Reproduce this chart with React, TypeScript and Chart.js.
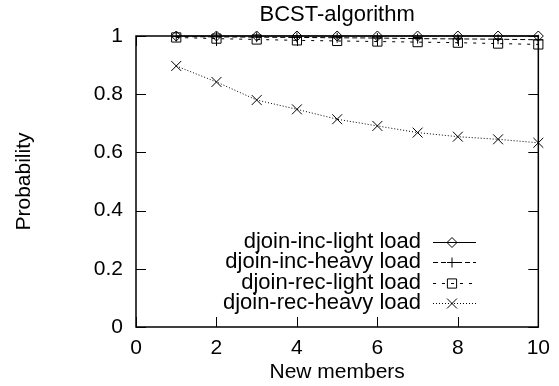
import React, { useEffect, useRef } from "react";
import { Chart, registerables } from "chart.js";
import { drawPoint } from "chart.js/helpers";

Chart.register(...registerables);

const newMembers = [1, 2, 3, 4, 5, 6, 7, 8, 9, 10];
const incLight = [1, 1, 1, 1, 1, 1, 1, 1, 1, 1];
const incHeavy = [0.998, 0.997, 0.996, 0.995, 0.994, 0.993, 0.991, 0.99, 0.989, 0.987];
const recLight = [0.995, 0.991, 0.988, 0.985, 0.983, 0.981, 0.979, 0.977, 0.974, 0.971];
const recHeavy = [0.897, 0.842, 0.78, 0.748, 0.714, 0.691, 0.668, 0.654, 0.645, 0.633];
const seriesLabels = [
  "djoin-inc-light load",
  "djoin-inc-heavy load",
  "djoin-rec-light load",
  "djoin-rec-heavy load",
];
const chartTitle = "BCST-algorithm";
const xTitle = "New members";
const yTitle = "Probability";

const FONT = "'Liberation Sans', Arial, Helvetica, sans-serif";

const toPts = (vals: number[]) => vals.map((v, i) => ({ x: newMembers[i], y: v }));
const fmt = (v: any) => String(Number(Number(v).toFixed(3)));

const framePlugin = {
  id: "gnuFrame",
  beforeDatasetsDraw(chart: any) {
    const { ctx, chartArea: a, scales } = chart;
    const x = scales.x;
    const y = scales.y;
    ctx.save();
    ctx.strokeStyle = "#000";
    ctx.lineWidth = 1;
    const T = 10;
    ctx.beginPath();
    x.ticks.forEach((t: any) => {
      const px = Math.round(x.getPixelForValue(t.value)) + 0.5;
      ctx.moveTo(px, a.bottom);
      ctx.lineTo(px, a.bottom - T);
      ctx.moveTo(px, a.top);
      ctx.lineTo(px, a.top + T);
    });
    y.ticks.forEach((t: any) => {
      const py = Math.round(y.getPixelForValue(t.value)) + 0.5;
      ctx.moveTo(a.left, py);
      ctx.lineTo(a.left + T, py);
      ctx.moveTo(a.right, py);
      ctx.lineTo(a.right - T, py);
    });
    ctx.stroke();
    ctx.lineWidth = 1.5;
    ctx.strokeRect(a.left, a.top, a.right - a.left, a.bottom - a.top);
    ctx.restore();
  },
};

const titlePlugin = {
  id: "gnuTitle",
  afterDraw(chart: any) {
    const { ctx, chartArea: a } = chart;
    ctx.save();
    ctx.fillStyle = "#000";
    ctx.font = `22px ${FONT}`;
    ctx.textAlign = "center";
    ctx.textBaseline = "middle";
    ctx.fillText(chartTitle, (a.left + a.right) / 2, 15);
    ctx.restore();
  },
};

const legendPlugin = {
  id: "gnuLegend",
  afterDraw(chart: any) {
    const { ctx } = chart;
    const textRight = 421;
    const lineStart = 433;
    const lineEnd = 476;
    const mid = 452;
    ctx.save();
    chart.data.datasets.forEach((ds: any, i: number) => {
      const yy = 242 + 20.3 * i;
      ctx.fillStyle = "#000";
      ctx.font = `22px ${FONT}`;
      ctx.textAlign = "right";
      ctx.textBaseline = "middle";
      ctx.fillText(ds.label, textRight, yy);
      ctx.strokeStyle = ds.borderColor;
      ctx.lineWidth = ds.borderWidth;
      ctx.setLineDash(ds.borderDash || []);
      ctx.beginPath();
      ctx.moveTo(lineStart, Math.round(yy) + 0.5);
      ctx.lineTo(lineEnd, Math.round(yy) + 0.5);
      ctx.stroke();
      ctx.setLineDash([]);
      ctx.fillStyle = ds.pointBackgroundColor;
      ctx.strokeStyle = ds.pointBorderColor;
      ctx.lineWidth = ds.pointBorderWidth;
      drawPoint(
        ctx,
        { pointStyle: ds.pointStyle, rotation: 0, radius: ds.pointRadius, borderWidth: ds.pointBorderWidth },
        mid,
        Math.round(yy) + 0.5
      );
    });
    ctx.restore();
  },
};

export default function App() {
  const ref = useRef<HTMLCanvasElement | null>(null);

  useEffect(() => {
    if (!ref.current) return;
    const common = {
      borderColor: "#000",
      borderWidth: 1,
      pointBorderColor: "#000",
      pointBackgroundColor: "rgba(255,255,255,0)",
      pointBorderWidth: 1,
      pointHoverRadius: 0,
      fill: false,
      tension: 0,
      clip: false as any,
    };
    const chart = new Chart(ref.current, {
      type: "line",
      data: {
        datasets: [
          { ...common, label: seriesLabels[0], data: toPts(incLight), pointStyle: "rectRot", pointRadius: 5, borderDash: [] },
          { ...common, label: seriesLabels[1], data: toPts(incHeavy), pointStyle: "cross", pointRadius: 5, borderDash: [5, 3] },
          { ...common, label: seriesLabels[2], data: toPts(recLight), pointStyle: "rect", pointRadius: 6.5, borderDash: [3, 6] },
          { ...common, label: seriesLabels[3], data: toPts(recHeavy), pointStyle: "crossRot", pointRadius: 7, borderDash: [1, 2] },
        ],
      },
      options: {
        animation: false,
        responsive: false,
        events: [],
        layout: { padding: { top: 36, right: 16, bottom: 0, left: 0 } },
        plugins: {
          legend: { display: false },
          title: { display: false },
          tooltip: { enabled: false },
        },
        scales: {
          x: {
            type: "linear",
            min: 0,
            max: 10,
            ticks: { stepSize: 2, color: "#000", padding: 9, maxRotation: 0, font: { family: FONT, size: 21 }, callback: fmt },
            grid: { display: false, drawTicks: false },
            border: { display: false },
            title: { display: true, text: xTitle, color: "#000", font: { family: FONT, size: 21 }, padding: { top: 0, bottom: 1 } },
            afterFit(scale: any) {
              scale.height = 59;
            },
          },
          y: {
            type: "linear",
            min: 0,
            max: 1,
            ticks: { stepSize: 0.2, color: "#000", padding: 13, font: { family: FONT, size: 21 }, callback: fmt },
            grid: { display: false, drawTicks: false },
            border: { display: false },
            title: { display: true, text: yTitle, color: "#000", font: { family: FONT, size: 21 }, padding: { top: 12, bottom: 0 } },
            afterFit(scale: any) {
              scale.width = 136;
            },
          },
        },
      },
      plugins: [framePlugin, titlePlugin, legendPlugin],
    } as any);
    return () => chart.destroy();
  }, []);

  return (
    <div style={{ position: "absolute", left: 0, top: 0, width: 559, height: 386, background: "#fff" }}>
      <canvas ref={ref} width={559} height={386} style={{ display: "block" }} />
    </div>
  );
}
